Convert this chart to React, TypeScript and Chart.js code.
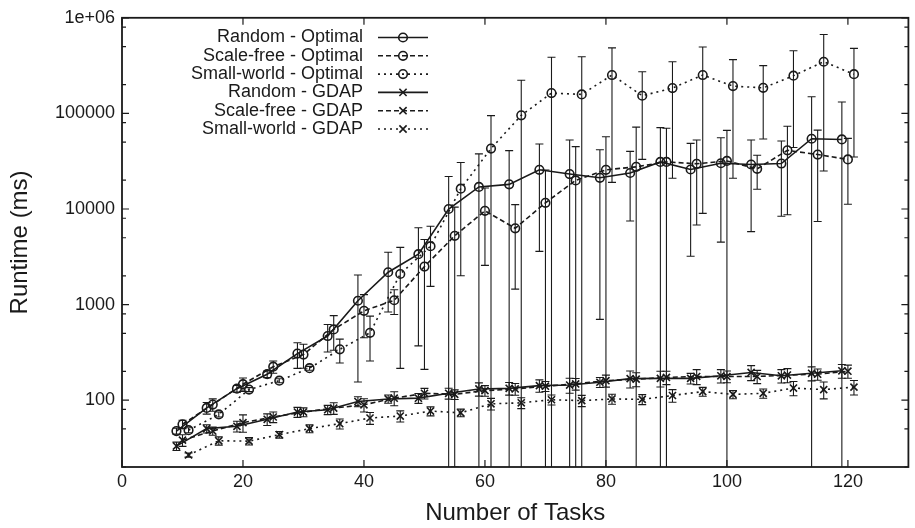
import React, { useEffect, useRef } from "react";
import { Chart, registerables } from "chart.js";

Chart.register(...registerables);

const FONT_FAMILY = '"Liberation Sans", Arial, Helvetica, sans-serif';
const INK = "#1a1a1a";

// ---- Data ----
const randomTasks = [9, 14, 19, 24, 29, 34, 39, 44, 49, 54, 59, 64, 69, 74, 79, 84, 89, 94, 99, 104, 109, 114, 119];
const scaleFreeTasks = [10, 15, 20, 25, 30, 35, 40, 45, 50, 55, 60, 65, 70, 75, 80, 85, 90, 95, 100, 105, 110, 115, 120];
const smallWorldTasks = [11, 16, 21, 26, 31, 36, 41, 46, 51, 56, 61, 66, 71, 76, 81, 86, 91, 96, 101, 106, 111, 116, 121];

const randomOptimal = [47.5, 83, 132, 187, 307, 469, 1097, 2180, 3370, 10000, 17000, 18100, 25700, 23200, 21200, 23800, 31100, 25900, 30100, 29200, 29900, 54300, 53400];
const randomOptimalErr = [3.4, 11.5, 10.5, 15, 92, 150, 942, 1345, 3000, 11900, 20700, 22700, 22100, 29400, 20500, 16300, 39800, 22700, 25600, 23400, 21500, 95000, 78000];

const scaleFreeOptimal = [56, 90, 147, 224, 300, 550, 860, 1110, 2500, 5240, 9570, 6280, 11600, 19900, 25700, 27600, 31100, 29700, 31800, 26300, 41100, 37100, 33000];
const scaleFreeOptimalErr = [5.6, 13.3, 23.4, 33, 84, 217, 410, 322, 2290, 5220, 7000, 4830, 14000, 25000, 31300, 44200, 38900, 22900, 34600, 10200, 32400, 29700, 21800];

const smallWorldOptimal = [48.5, 71, 129, 160, 216, 340, 507, 2090, 4080, 16300, 42900, 95500, 163000, 158000, 252000, 153000, 184000, 252000, 193000, 185000, 248000, 347000, 257000];
const smallWorldOptimalErr = [2.9, 4.2, 6.2, 7.6, 10, 95, 250, 1875, 2530, 14300, 51900, 127000, 223000, 233000, 233000, 120000, 163000, 243000, 172000, 131000, 204000, 322000, 222000];

const randomGdap = [33.1, 50.4, 53.3, 63.1, 75.1, 79.4, 96.9, 103, 105, 118, 131, 133, 142, 144, 154, 168, 169, 169, 180, 195, 180, 191, 203];
const randomGdapErr = [3.3, 5, 6.8, 8.8, 9, 8.8, 11.6, 10.2, 12.5, 15.5, 20.8, 20.1, 20.9, 25.8, 18.4, 33.7, 31.7, 21.6, 28.6, 34.9, 28.6, 31.9, 33.2];

const scaleFreeGdap = [38.2, 47.6, 58.2, 66.7, 75.1, 82.6, 89.4, 105, 118, 115, 126, 131, 140, 148, 160, 166, 173, 177, 177, 177, 183, 187, 201];
const scaleFreeGdapErr = [5.3, 4.7, 12, 8.5, 8, 11.5, 14.2, 17.5, 15, 13.3, 16.1, 18.3, 16.7, 20.6, 22.9, 27.7, 27.5, 31.7, 24.7, 28.1, 30.6, 25.2, 31.6];

const smallWorldGdap = [26.7, 37.6, 37.3, 43.6, 50.4, 56.8, 65.1, 68.2, 76.9, 73.8, 91.6, 93.8, 101, 99, 103, 102, 112, 123, 115, 118, 134, 129, 137];
const smallWorldGdapErr = [1.3, 3.7, 3.3, 3.5, 4.8, 6.8, 9.3, 9, 8.3, 6.8, 12.8, 12.3, 12.1, 13.4, 12.3, 12.2, 16.9, 13.2, 11.4, 13.1, 22.9, 25.7, 23.7];

const seriesLabels = [
  "Random - Optimal",
  "Scale-free - Optimal",
  "Small-world - Optimal",
  "Random - GDAP",
  "Scale-free - GDAP",
  "Small-world - GDAP",
];

const xTickValues = [0, 20, 40, 60, 80, 100, 120];
const yTickValues = [100, 1000, 10000, 100000, 1000000];
const yMinorTickValues = [20, 50, 80, 200, 500, 800, 2000, 5000, 8000, 20000, 50000, 80000, 200000, 500000, 800000];

// ---- styles ----
const SOLID: number[] = [];
const DASHED = [5, 3];
const DOTTED = [2, 4];

function pts(xs: number[], ys: number[]) {
  return xs.map((x, i) => ({ x, y: ys[i] }));
}

const seriesDefs = [
  { label: seriesLabels[0], xs: randomTasks, ys: randomOptimal, err: randomOptimalErr, dash: SOLID, style: "circle" },
  { label: seriesLabels[1], xs: scaleFreeTasks, ys: scaleFreeOptimal, err: scaleFreeOptimalErr, dash: DASHED, style: "circle" },
  { label: seriesLabels[2], xs: smallWorldTasks, ys: smallWorldOptimal, err: smallWorldOptimalErr, dash: DOTTED, style: "circle" },
  { label: seriesLabels[3], xs: randomTasks, ys: randomGdap, err: randomGdapErr, dash: SOLID, style: "crossRot" },
  { label: seriesLabels[4], xs: scaleFreeTasks, ys: scaleFreeGdap, err: scaleFreeGdapErr, dash: DASHED, style: "crossRot" },
  { label: seriesLabels[5], xs: smallWorldTasks, ys: smallWorldGdap, err: smallWorldGdapErr, dash: DOTTED, style: "crossRot" },
];

function drawMarker(ctx: CanvasRenderingContext2D, style: string, x: number, y: number) {
  ctx.save();
  ctx.setLineDash([]);
  ctx.lineWidth = 1.6;
  ctx.strokeStyle = INK;
  ctx.beginPath();
  if (style === "circle") {
    ctx.arc(x, y, 4.3, 0, Math.PI * 2);
  } else {
    const r = 3.6;
    ctx.moveTo(x - r, y - r);
    ctx.lineTo(x + r, y + r);
    ctx.moveTo(x - r, y + r);
    ctx.lineTo(x + r, y - r);
  }
  ctx.stroke();
  ctx.restore();
}

const errorBarPlugin = {
  id: "errorBars",
  beforeDatasetsDraw(chart: any) {
    const { ctx, chartArea } = chart;
    const xs = chart.scales.x;
    const ys = chart.scales.y;
    ctx.save();
    ctx.beginPath();
    ctx.rect(chartArea.left, chartArea.top, chartArea.right - chartArea.left, chartArea.bottom - chartArea.top);
    ctx.clip();
    ctx.strokeStyle = INK;
    ctx.lineWidth = 1.1;
    ctx.setLineDash([]);
    const cap = 4;
    chart.data.datasets.forEach((ds: any) => {
      const errs: number[] = ds.errors || [];
      ds.data.forEach((p: any, i: number) => {
        const sd = errs[i];
        if (sd == null) return;
        const px = xs.getPixelForValue(p.x);
        const hi = p.y + sd;
        const lo = p.y - sd;
        const yHi = ys.getPixelForValue(hi);
        const yLo = lo > 0 ? ys.getPixelForValue(lo) : chartArea.bottom + 30;
        ctx.beginPath();
        ctx.moveTo(px, yHi);
        ctx.lineTo(px, yLo);
        ctx.moveTo(px - cap, yHi);
        ctx.lineTo(px + cap, yHi);
        if (lo > 0) {
          ctx.moveTo(px - cap, yLo);
          ctx.lineTo(px + cap, yLo);
        }
        ctx.stroke();
      });
    });
    ctx.restore();
  },
};

const framePlugin = {
  id: "frameTicks",
  afterDatasetsDraw(chart: any) {
    const { ctx, chartArea } = chart;
    const { left, right, top, bottom } = chartArea;
    const xs = chart.scales.x;
    const ys = chart.scales.y;
    ctx.save();
    ctx.setLineDash([]);
    ctx.strokeStyle = INK;
    ctx.lineWidth = 1.2;
    ctx.beginPath();
    xTickValues.forEach((v) => {
      const px = xs.getPixelForValue(v);
      ctx.moveTo(px, bottom);
      ctx.lineTo(px, bottom - 7);
      ctx.moveTo(px, top);
      ctx.lineTo(px, top + 7);
    });
    yTickValues.forEach((v) => {
      const py = ys.getPixelForValue(v);
      ctx.moveTo(left, py);
      ctx.lineTo(left + 7, py);
      ctx.moveTo(right, py);
      ctx.lineTo(right - 7, py);
    });
    yMinorTickValues.forEach((v) => {
      const py = ys.getPixelForValue(v);
      ctx.moveTo(left, py);
      ctx.lineTo(left + 4, py);
      ctx.moveTo(right, py);
      ctx.lineTo(right - 4, py);
    });
    ctx.stroke();
    ctx.lineWidth = 1.8;
    ctx.strokeRect(left, top, right - left, bottom - top);
    ctx.restore();
  },
};

const legendPlugin = {
  id: "innerLegend",
  afterDraw(chart: any) {
    const { ctx, chartArea } = chart;
    const textRight = chartArea.left + 241;
    const lineStart = chartArea.left + 256;
    const lineEnd = chartArea.left + 306;
    const firstRow = chartArea.top + 19.7;
    const rowGap = 18.3;
    ctx.save();
    ctx.font = `18px ${FONT_FAMILY}`;
    ctx.textAlign = "right";
    ctx.textBaseline = "middle";
    chart.data.datasets.forEach((ds: any, i: number) => {
      const y = firstRow + i * rowGap;
      ctx.fillStyle = INK;
      ctx.fillText(ds.label, textRight, y);
      ctx.strokeStyle = INK;
      ctx.lineWidth = 1.6;
      ctx.setLineDash(ds.borderDash || []);
      ctx.beginPath();
      ctx.moveTo(lineStart, y);
      ctx.lineTo(lineEnd, y);
      ctx.stroke();
      drawMarker(ctx, ds.pointStyle, (lineStart + lineEnd) / 2, y);
    });
    ctx.restore();
  },
};

export default function App() {
  const canvasRef = useRef<HTMLCanvasElement | null>(null);

  useEffect(() => {
    const canvas = canvasRef.current;
    if (!canvas) return;

    const datasets = seriesDefs.map((s) => ({
      label: s.label,
      data: pts(s.xs, s.ys),
      errors: s.err,
      borderColor: INK,
      backgroundColor: "transparent",
      borderWidth: 1.6,
      borderDash: s.dash,
      pointStyle: s.style,
      pointRadius: s.style === "circle" ? 4.3 : 5,
      pointBorderWidth: 1.6,
      pointBorderColor: INK,
      pointBackgroundColor: "transparent",
      pointHoverRadius: 0,
      showLine: true,
      tension: 0,
      fill: false,
    }));

    const chart = new Chart(canvas, {
      type: "line",
      data: { datasets } as any,
      plugins: [errorBarPlugin, framePlugin, legendPlugin],
      options: {
        animation: false,
        responsive: false,
        devicePixelRatio: 1,
        events: [],
        layout: { padding: { left: 0, top: 12, right: 3, bottom: 0 } },
        plugins: {
          legend: { display: false },
          tooltip: { enabled: false },
          title: { display: false },
        },
        scales: {
          x: {
            type: "linear",
            min: 0,
            max: 130,
            grid: { display: false, drawTicks: false },
            border: { display: false },
            afterBuildTicks: (scale: any) => {
              scale.ticks = xTickValues.map((v) => ({ value: v }));
            },
            ticks: {
              autoSkip: false,
              maxRotation: 0,
              padding: 4,
              color: INK,
              font: { family: FONT_FAMILY, size: 18 },
              callback: (v: any) => String(v),
            },
            title: {
              display: true,
              text: "Number of Tasks",
              color: INK,
              font: { family: FONT_FAMILY, size: 24 },
              padding: { top: 0, bottom: 0 },
            },
            afterFit: (scale: any) => {
              scale.height = 61;
            },
          },
          y: {
            type: "logarithmic",
            min: 20,
            max: 1000000,
            grid: { display: false, drawTicks: false },
            border: { display: false },
            afterBuildTicks: (scale: any) => {
              scale.ticks = yTickValues.map((v) => ({ value: v }));
            },
            ticks: {
              autoSkip: false,
              padding: 7,
              color: INK,
              font: { family: FONT_FAMILY, size: 18 },
              callback: (v: any) => (Number(v) >= 1000000 ? "1e+06" : String(Number(v))),
            },
            title: {
              display: true,
              text: "Runtime (ms)",
              color: INK,
              font: { family: FONT_FAMILY, size: 24 },
              padding: { top: 6, bottom: 0 },
            },
            afterFit: (scale: any) => {
              scale.width = 122;
            },
          },
        },
      } as any,
    });

    return () => chart.destroy();
  }, []);

  return (
    <div style={{ position: "absolute", left: 0, top: 0, width: 915, height: 528, background: "#fff" }}>
      <canvas ref={canvasRef} width={915} height={528} style={{ display: "block", width: 915, height: 528 }} />
    </div>
  );
}
